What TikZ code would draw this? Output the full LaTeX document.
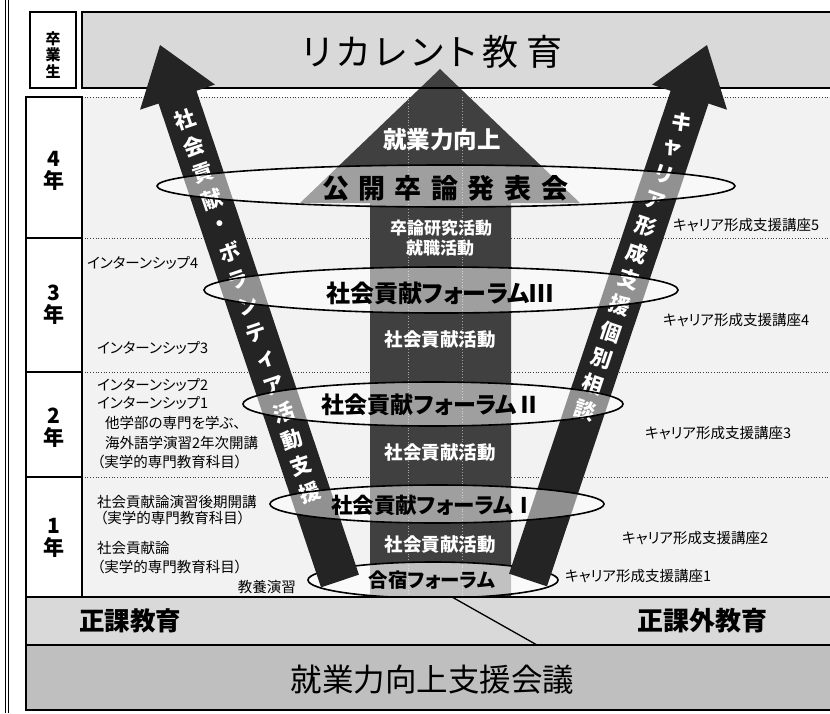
\documentclass[tikz,border=0pt]{standalone}
\usepackage{fontspec}
\setmainfont{Noto Sans CJK JP}[RawFeature=+palt]
\usetikzlibrary{calc}
\definecolor{bgc}{HTML}{F2F2F2}
\definecolor{bandc}{HTML}{D9D9D9}
\definecolor{meetc}{HTML}{BFBFBF}
\definecolor{carrow}{HTML}{404040}
\definecolor{darrow}{HTML}{242424}
\begin{document}
\begin{tikzpicture}[x=1pt,y=-1pt,
  box/.style={draw=black, line width=1.6pt},
  hdot/.style={draw=black!75, dotted, line width=0.7pt},
  vdot/.style={draw=black!35, dotted, line width=0.8pt},
  ell/.style={draw=black, line width=1.6pt, fill=white, fill opacity=0.5},
  small/.style={font=\fontsize{14.5}{16}\selectfont, inner sep=0pt, anchor=west},
  wlab/.style={font=\fontsize{18.5}{20}\selectfont\bfseries, text=white, inner sep=0pt},
  atext/.style={font=\fontsize{21}{21}\selectfont\bfseries, text=white, inner sep=0pt},
  year/.style={font=\fontsize{21}{22}\selectfont\bfseries, align=center, inner sep=0pt},
]
\useasboundingbox (0,0) rectangle (830,713);
% left double rule
\draw[line width=0.9pt] (5.5,0) -- (5.5,713);
\draw[line width=0.9pt] (8.5,0) -- (8.5,713);
% background areas
\fill[bgc] (82,97) rectangle (834,597);
\fill[bandc] (82,12) rectangle (834,88);
\foreach \yy in {97,238,372,477} \draw[hdot] (82,\yy) -- (834,\yy);
% central arrow
\fill[carrow] (440,69) -- (580,203) -- (511,203) -- (511,597) -- (370,597) -- (370,203) -- (300,203) -- cycle;
\draw[box] (82,12) rectangle (834,88);
\draw[vdot] (408,100) -- (408,597);
\draw[vdot] (462,97) -- (462,597);
% central arrow texts
\node[wlab, font=\fontsize{23.5}{24}\selectfont\bfseries] (up) at (442,140) {就業力向上};
\node[wlab, font=\fontsize{17}{18}\selectfont\bfseries] (sotsu) at (441,228) {卒論研究活動};
\node[wlab, font=\fontsize{17}{18}\selectfont\bfseries] (shu) at (440,248) {就職活動};
\node[wlab] (act3) at (440,340) {社会貢献活動};
\node[wlab] (act2) at (440,453) {社会貢献活動};
\node[wlab] (act1) at (440,545) {社会貢献活動};
% gasshuku ellipse (below the diagonal arrows)
\draw[ell, fill opacity=0.68] (433,580) ellipse [x radius=125pt, y radius=18pt];
% left diagonal arrow
\coordinate (LT) at (160,45);
\coordinate (LB) at (340,581);
\coordinate (LH) at ($(LT)!55pt!(LB)$);
\fill[darrow] (LT) -- ($(LH)!39.5pt!90:(LT)$) -- ($(LH)!20pt!90:(LT)$) -- ($(LB)!20pt!90:(LT)$)
  -- ($(LB)!20pt!-90:(LT)$) -- ($(LH)!20pt!-90:(LT)$) -- ($(LH)!39.5pt!-90:(LT)$) -- cycle;
\foreach \c [count=\i from 0] in {社,会,貢,献,・,ボ,ラ,ン,テ,ィ,ア,活,動,支,援} {
  \pgfmathsetmacro\dd{78.8+28.1*\i}
  \node[atext, rotate=18.6] (la\i) at ($(LT)!\dd pt!(LB)$) {\c};
}
% right diagonal arrow
\coordinate (RT) at (707,45);
\coordinate (RB) at (528,580);
\coordinate (RH) at ($(RT)!55pt!(RB)$);
\fill[darrow] (RT) -- ($(RH)!39.5pt!90:(RT)$) -- ($(RH)!20pt!90:(RT)$) -- ($(RB)!20pt!90:(RT)$)
  -- ($(RB)!20pt!-90:(RT)$) -- ($(RH)!20pt!-90:(RT)$) -- ($(RH)!39.5pt!-90:(RT)$) -- cycle;
\foreach \c [count=\i from 0] in {キ,ャ,リ,ア,形,成,支,援,個,別,相,談} {
  \pgfmathsetmacro\dd{81+27.7*\i}
  \node[atext, rotate=-18.5] (ra\i) at ($(RT)!\dd pt!(RB)$) {\c};
}
% forum ellipses
\draw[ell] (446,186) ellipse [x radius=289pt, y radius=21pt];
\draw[ell] (441,290) ellipse [x radius=237pt, y radius=23pt];
\draw[ell] (433,404) ellipse [x radius=190pt, y radius=22pt];
\draw[ell] (437,504) ellipse [x radius=167pt, y radius=19pt];
\node[inner sep=0pt, font=\fontsize{27}{28}\selectfont\bfseries] (happyo) at (445,188)
  {公\kern9.5pt 開\kern9.5pt 卒\kern9.5pt 論\kern9.5pt 発\kern9.5pt 表\kern9.5pt 会};
\node[inner sep=0pt, font=\fontsize{24}{25}\selectfont\bfseries] (f3) at (440,293) {社会貢献フォーラムⅢ};
\node[inner sep=0pt, font=\fontsize{23}{24}\selectfont\bfseries] (f2) at (431,405) {社会貢献フォーラムⅡ};
\node[inner sep=0pt, font=\fontsize{21.5}{22}\selectfont\bfseries] (f1) at (433,505) {社会貢献フォーラムⅠ};
\node[inner sep=0pt, font=\fontsize{19.5}{20}\selectfont\bfseries] (gs) at (432,580) {合宿フォーラム};
% left side texts
\node[small] (in4) at (87,263) {インターンシップ4};
\node[small] (in3) at (97,348) {インターンシップ3};
\node[small] (in2) at (97,385) {インターンシップ2};
\node[small] (in1) at (97,403) {インターンシップ1};
\node[small] (ta) at (105,423) {他学部の専門を学ぶ、};
\node[small] (kai) at (105,443) {海外語学演習2年次開講};
\node[small] (j2) at (97,462) {（実学的専門教育科目）};
\node[small] (en) at (97,502) {社会貢献論演習後期開講};
\node[small] (j1b) at (100,518) {（実学的専門教育科目）};
\node[small] (ron) at (97,548) {社会貢献論};
\node[small] (j1a) at (97,567) {（実学的専門教育科目）};
\node[small, anchor=east] (kyo) at (296,587) {教養演習};
% right side texts
\node[small] (c5) at (673,225) {キャリア形成支援講座5};
\node[small] (c4) at (663,320) {キャリア形成支援講座4};
\node[small] (c3) at (645,433) {キャリア形成支援講座3};
\node[small] (c2) at (622,538) {キャリア形成支援講座2};
\node[small] (c1) at (565,576) {キャリア形成支援講座1};
% top boxes
\draw[box, fill=white] (30,12) rectangle (76,88);
\node[year, font=\fontsize{15}{16.5}\selectfont\bfseries] (grad) at (53,55) {卒\\業\\生};
\node[inner sep=0pt, font=\fontsize{36}{38}\selectfont] (rec) at (432,52)
  {リ\kern5pt カ\kern5pt レ\kern5pt ン\kern5pt ト\kern6pt 教\kern8pt 育};
% year boxes
\draw[box, fill=white] (26,97) rectangle (82,238);
\draw[box, fill=white] (26,238) rectangle (82,372);
\draw[box, fill=white] (26,372) rectangle (82,477);
\draw[box, fill=white] (26,477) rectangle (82,597);
\node[year] (y4) at (54,171) {4\\年};
\node[year] (y3) at (54,305) {3\\年};
\node[year] (y2) at (54,428) {2\\年};
\node[year] (y1) at (54,538) {1\\年};
% bottom bands
\draw[box, fill=bandc] (26,597) rectangle (834,645);
\draw[box, fill=meetc] (26,645) rectangle (834,710);
\coordinate (dA) at (452,597);
\coordinate (dB) at (537,645);
\draw[line width=1.3pt] (dA) -- (dB);
\node[inner sep=0pt, font=\fontsize{25.5}{26}\selectfont\bfseries] (seika) at (130,621) {正課教育};
\node[inner sep=0pt, font=\fontsize{26}{27}\selectfont\bfseries] (seikagai) at (702,621) {正課外教育};
\node[inner sep=0pt, font=\fontsize{31.5}{32}\selectfont] (kaigi) at (432.5,680) {就業力向上支援会議};
\end{tikzpicture}
\end{document}
